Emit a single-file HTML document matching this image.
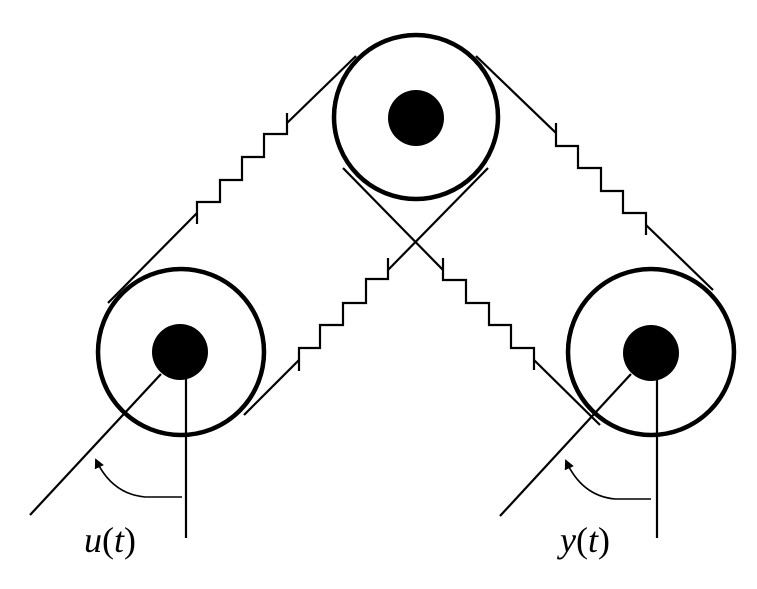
<!DOCTYPE html>
<html><head><style>body{margin:0;background:#fff}svg{display:block}</style></head><body>
<svg width="757" height="589" viewBox="0 0 757 589" xmlns="http://www.w3.org/2000/svg">
<defs><marker id="ah" markerWidth="10" markerHeight="10" refX="8" refY="5" orient="auto" markerUnits="userSpaceOnUse"><path d="M0,0 L10,5 L0,10 z" fill="#000"/></marker></defs>
<g fill="none" stroke="#000" stroke-width="4.5">
<circle cx="416" cy="117" r="82"/>
<circle cx="181" cy="352" r="83"/>
<circle cx="651" cy="352" r="83"/>
</g>
<g fill="#000"><circle cx="416" cy="118" r="28"/><circle cx="180" cy="352" r="28"/><circle cx="651" cy="353" r="28"/></g>
<g fill="none" stroke="#000" stroke-width="2.2">
<polyline points="108,303 197,213"/>
<polyline points="197,224 197,202 220,202 220,180 242,180 242,157 264,157 264,134 287,134 287,113"/>
<polyline points="287,123 356,56"/>
<polyline points="244,415 299,360"/>
<polyline points="299,371 299,348 320,348 320,325 343,325 343,303 366,303 366,279 388,279 388,258"/>
<polyline points="388,270 488,168"/>
<polyline points="343,168 443,270"/>
<polyline points="443,258 443,280 466,280 466,303 489,303 489,325 511,325 511,348 534,348 534,370"/>
<polyline points="534,360 600,425"/>
<polyline points="476,56 556,133"/>
<polyline points="556,123 556,146 578,146 578,168 601,168 601,191 623,191 623,213 646,213 646,235"/>
<polyline points="646,225 713,290"/>
<line x1="161" y1="374" x2="30" y2="515"/>
<line x1="186" y1="352" x2="186" y2="538"/>
<line x1="631" y1="374" x2="500" y2="516"/>
<line x1="657" y1="352" x2="657" y2="538"/>
</g>
<g fill="none" stroke="#000" stroke-width="1.6">
<path d="M182,497 L145,497 Q112,494 96,460" marker-end="url(#ah)"/>
<path d="M651,499 L615,499 Q582,496 566,461" marker-end="url(#ah)"/>
</g>
<g font-family="Liberation Serif, serif" font-size="36" fill="#000">
<text x="84" y="552"><tspan font-style="italic">u</tspan>(<tspan font-style="italic">t</tspan>)</text>
<text x="560" y="552"><tspan font-style="italic">y</tspan>(<tspan font-style="italic">t</tspan>)</text>
</g>
</svg>
</body></html>
